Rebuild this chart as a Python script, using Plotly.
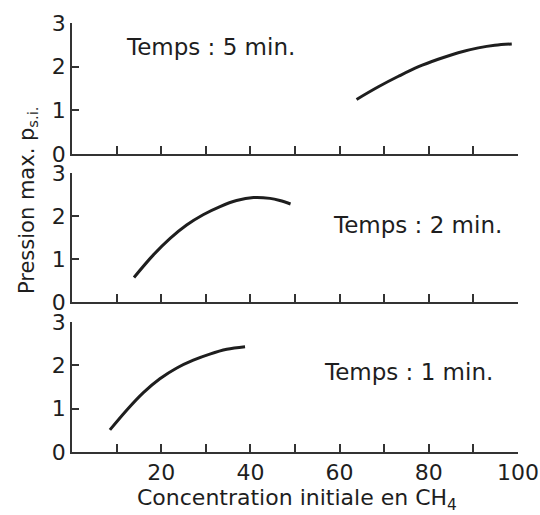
import plotly.graph_objects as go

# 5 min panel (top)
x_5min = [63.8, 68.7, 73.2, 77.7, 82.1, 86.6, 91.1, 94.8, 98.6]
y_5min = [1.25, 1.54, 1.78, 2.00, 2.17, 2.32, 2.43, 2.49, 2.52]
# 2 min panel (middle)
x_2min = [13.9, 18.2, 22.0, 25.7, 29.4, 33.2, 36.9, 40.7, 44.4, 46.6, 49.0]
y_2min = [0.57, 1.09, 1.48, 1.79, 2.03, 2.22, 2.36, 2.43, 2.41, 2.36, 2.28]
# 1 min panel (bottom)
x_1min = [8.5, 12.3, 16.0, 19.7, 23.5, 27.2, 30.9, 34.7, 38.8]
y_1min = [0.51, 0.97, 1.37, 1.69, 1.94, 2.12, 2.26, 2.37, 2.43]

x_tickvals = [10, 20, 30, 40, 50, 60, 70, 80, 90, 100]
x_ticktext = ["", "20", "", "40", "", "60", "", "80", "", "100"]
y_tickvals = [0, 1, 2, 3]
y_ticktext = ["0", "1", "2", "3"]

labels = ["Temps : 5 min.", "Temps : 2 min.", "Temps : 1 min."]

FONT = "DejaVu Sans"
INK = "#1e1e1e"

fig = go.Figure()
fig.add_trace(go.Scatter(x=x_5min, y=y_5min, mode="lines", line=dict(color=INK, width=3, shape="spline"),
                         xaxis="x", yaxis="y", showlegend=False))
fig.add_trace(go.Scatter(x=x_2min, y=y_2min, mode="lines", line=dict(color=INK, width=3, shape="spline"),
                         xaxis="x2", yaxis="y2", showlegend=False))
fig.add_trace(go.Scatter(x=x_1min, y=y_1min, mode="lines", line=dict(color=INK, width=3, shape="spline"),
                         xaxis="x3", yaxis="y3", showlegend=False))

def xax(anchor, show_labels):
    return dict(range=[0, 100], domain=[0, 1], anchor=anchor, showline=True, linecolor="#333",
                linewidth=1.5, ticks="inside", ticklen=8, tickwidth=1.5, tickcolor="#333",
                tickvals=x_tickvals, ticktext=x_ticktext, showticklabels=show_labels,
                showgrid=False, zeroline=False, fixedrange=True, automargin=False,
                tickfont=dict(family=FONT, size=22, color=INK))

def yax(anchor, dom):
    return dict(range=[0, 3], domain=dom, anchor=anchor, showline=True, linecolor="#333",
                linewidth=1.5, ticks="inside", ticklen=7, tickwidth=1.5, tickcolor="#333",
                tickvals=y_tickvals, ticktext=y_ticktext, showgrid=False, zeroline=False,
                fixedrange=True, automargin=False,
                tickfont=dict(family=FONT, size=22, color=INK))

fig.update_layout(
    width=540, height=515,
    margin=dict(l=72, r=22, t=23, b=63),
    paper_bgcolor="white", plot_bgcolor="white",
    xaxis=xax("y", False),
    xaxis2=xax("y2", False),
    xaxis3=xax("y3", True),
    yaxis=yax("x", [0.6946, 1.0]),
    yaxis2=yax("x2", [0.3497, 0.6503]),
    yaxis3=yax("x3", [0.0, 0.303]),
    font=dict(family=FONT, color=INK),
    annotations=[
        dict(text=labels[0], xref="x", yref="y", x=31, y=2.45, showarrow=False,
             font=dict(family=FONT, size=23, color=INK)),
        dict(text=labels[1], xref="x2", yref="y2", x=77.5, y=1.78, showarrow=False,
             font=dict(family=FONT, size=23, color=INK)),
        dict(text=labels[2], xref="x3", yref="y3", x=75.5, y=1.85, showarrow=False,
             font=dict(family=FONT, size=23, color=INK)),
        dict(text="Concentration initiale en CH<sub>4</sub>", xref="paper", yref="paper",
             x=0.505, y=-0.111, yanchor="middle", showarrow=False,
             font=dict(family=FONT, size=22, color=INK)),
        dict(text="Pression max. p<sub>s.i.</sub>", xref="paper", yref="paper",
             x=-0.099, y=0.587, textangle=-90, showarrow=False, xanchor="center", yanchor="middle",
             font=dict(family=FONT, size=21, color=INK)),
    ],
)

fig.write_html("out.html", config={"displayModeBar": False},
               post_script="document.body.style.margin='0';")
